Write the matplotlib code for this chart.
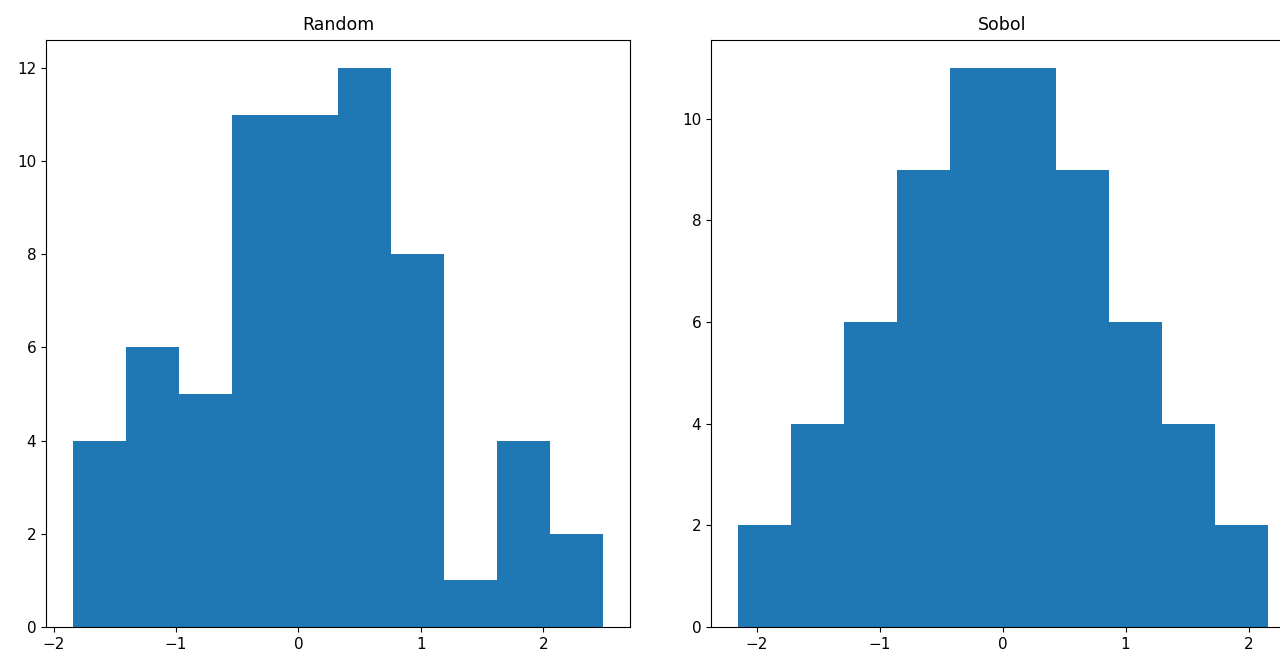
import matplotlib
matplotlib.use("Agg")
import matplotlib.pyplot as plt
import numpy as np

# Random histogram: bin edges and counts
random_edges = [-1.845, -1.4115, -0.978, -0.5445, -0.111, 0.3225, 0.756, 1.1895, 1.623, 2.0565, 2.49]
random_counts = [4, 6, 5, 11, 11, 12, 8, 1, 4, 2]

# Sobol histogram: bin edges and counts
sobol_edges = [-2.155, -1.724, -1.293, -0.862, -0.431, 0.0, 0.431, 0.862, 1.293, 1.724, 2.155]
sobol_counts = [2, 4, 6, 9, 11, 11, 9, 6, 4, 2]

titles = ["Random", "Sobol"]

fig = plt.figure(figsize=(12.8, 6.54), dpi=100)
ax1 = fig.add_axes([0.0359, 0.0413, 0.4563, 0.8976])
ax2 = fig.add_axes([0.5555, 0.0413, 0.4555, 0.8976])

for ax, edges, counts, title in [(ax1, random_edges, random_counts, titles[0]),
                                 (ax2, sobol_edges, sobol_counts, titles[1])]:
    e = np.array(edges)
    centers = (e[:-1] + e[1:]) / 2
    ax.hist(centers, bins=e, weights=counts, color="#1f77b4")
    ax.set_title(title, fontsize=12.5, pad=7)
    ax.tick_params(labelsize=11)

fig.savefig("out.png", dpi=100)
